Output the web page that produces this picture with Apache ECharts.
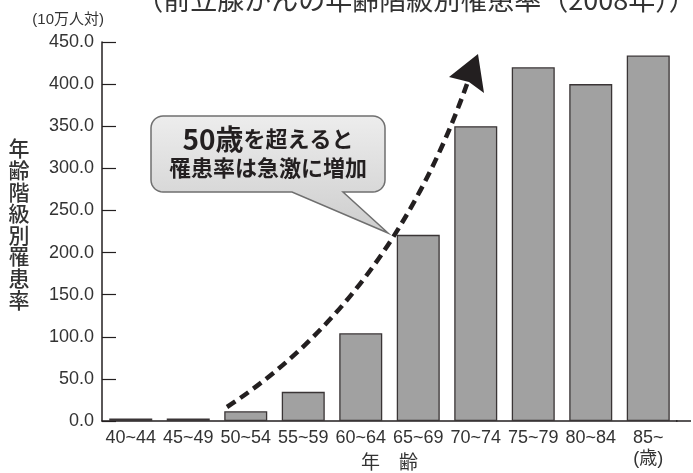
<!DOCTYPE html>
<html>
<head>
<meta charset="utf-8">
<script src="https://cdn.jsdelivr.net/npm/echarts@6/dist/echarts.min.js"></script>
<style>html,body{margin:0;padding:0;background:#fff}#c{width:693px;height:473px}</style>
</head>
<body>
<div id="c"></div>
<script>
var categories = ['40~44','45~49','50~54','55~59','60~64','65~69','70~74','75~79','80~84','85~\n(歳)'];
var rates = [2.9, 3.0, 11.5, 34.6, 104.2, 221.0, 350.0, 420.0, 400.0, 434.0];
var yTicks = {min: 0, max: 450, interval: 50};

var NUM = "'Liberation Sans', 'Noto Sans CJK JP', sans-serif";
var JP = "'Noto Sans CJK JP', sans-serif";

// callout bubble outline: rounded rectangle with a tail
function bubblePoints(x0, y0, x1, y1, r, tail) {
  var pts = [];
  function arc(cx, cy, a0, a1) {
    for (var i = 0; i <= 8; i++) {
      var a = a0 + (a1 - a0) * i / 8;
      pts.push([cx + r * Math.cos(a), cy + r * Math.sin(a)]);
    }
  }
  arc(x0 + r, y0 + r, Math.PI, Math.PI * 1.5);
  arc(x1 - r, y0 + r, Math.PI * 1.5, Math.PI * 2);
  arc(x1 - r, y1 - r, 0, Math.PI * 0.5);
  pts.push([tail[0], y1]);
  pts.push([tail[1], tail[2]]);
  pts.push([tail[3], y1]);
  arc(x0 + r, y1 - r, Math.PI * 0.5, Math.PI);
  return pts;
}

var chart = echarts.init(document.getElementById('c'), null, {renderer: 'canvas'});
chart.setOption({
  animation: false,
  backgroundColor: '#fff',
  grid: {left: 102, right: 16, top: 42, bottom: 52, containLabel: false, outerBoundsMode: 'none'},
  xAxis: {
    type: 'category',
    data: categories,
    axisLine: {lineStyle: {color: '#231f20', width: 1.5}},
    axisTick: {show: false},
    axisLabel: {color: '#333', fontFamily: NUM, fontSize: 18, margin: 7, lineHeight: 21, interval: 0},
    name: '年　齢',
    nameLocation: 'middle',
    nameGap: 31,
    nameMoveOverlap: false,
    nameTextStyle: {color: '#333', fontFamily: JP, fontSize: 19}
  },
  yAxis: {
    type: 'value',
    min: yTicks.min, max: yTicks.max, interval: yTicks.interval,
    axisLine: {show: true, lineStyle: {color: '#231f20', width: 1.5}},
    axisTick: {show: true, inside: true, length: 14, lineStyle: {color: '#231f20', width: 1.2}},
    splitLine: {show: false},
    axisLabel: {color: '#333', fontFamily: NUM, fontSize: 18, margin: 8,
      formatter: function (v) { return v.toFixed(1); }},
    name: '(10万人対)',
    nameLocation: 'end',
    nameGap: 15,
    nameMoveOverlap: false,
    nameTextStyle: {color: '#333', fontFamily: NUM, fontSize: 15, align: 'right', padding: [0, -2, 0, 0]}
  },
  series: [{
    type: 'bar',
    data: rates,
    barWidth: 43,
    itemStyle: {color: '#a1a1a1', borderColor: '#3a3536', borderWidth: 1.3}
  }],
  graphic: [
    {type: 'text', x: 416, y: 0, z: 10, style: {text: '（前立腺がんの年齢階級別罹患率（2008年））', fill: '#333', font: '27px ' + JP, align: 'center', verticalAlign: 'middle'}},
    {type: 'text', x: 19, y: 224, style: {text: '年\n齢\n階\n級\n別\n罹\n患\n率', fill: '#333', font: '500 21px ' + JP, lineHeight: 21.6, align: 'center', verticalAlign: 'middle'}},
    {type: 'line', shape: {x1: 676, y1: 421, x2: 691, y2: 421}, style: {stroke: '#231f20', lineWidth: 1.5}},
    {type: 'bezierCurve', shape: {x1: 227, y1: 407, cpx1: 390, cpy1: 300, x2: 467, y2: 84},
      style: {stroke: '#231f20', lineWidth: 4.5, lineDash: [10, 6], fill: null}, z: 20},
    {type: 'polygon', shape: {points: [[478, 54], [449, 77], [469, 82], [484, 93]]},
      style: {fill: '#231f20'}, z: 20},
    {type: 'polygon', z: 15,
      shape: {points: bubblePoints(151, 116, 385, 192, 12, [343, 388, 233, 292])},
      style: {
        fill: new echarts.graphic.LinearGradient(0, 0, 0, 1, [
          {offset: 0, color: '#ededed'}, {offset: 1, color: '#cdcdcd'}]),
        stroke: '#6f6f6f', lineWidth: 1.5}},
    {type: 'text', x: 268, y: 153, z: 16,
      style: {
        text: '{a|50歳}{b|を超えると}\n{c|罹患率は急激に増加}',
        align: 'center', verticalAlign: 'middle',
        rich: {
          a: {fontFamily: JP, fontSize: 28, fontWeight: 'bold', fill: '#231f20', lineHeight: 30},
          b: {fontFamily: JP, fontSize: 22, fontWeight: 'bold', fill: '#231f20', lineHeight: 30},
          c: {fontFamily: JP, fontSize: 22, fontWeight: 'bold', fill: '#231f20', lineHeight: 28}
        }
      }}
  ]
});
</script>
</body>
</html>
